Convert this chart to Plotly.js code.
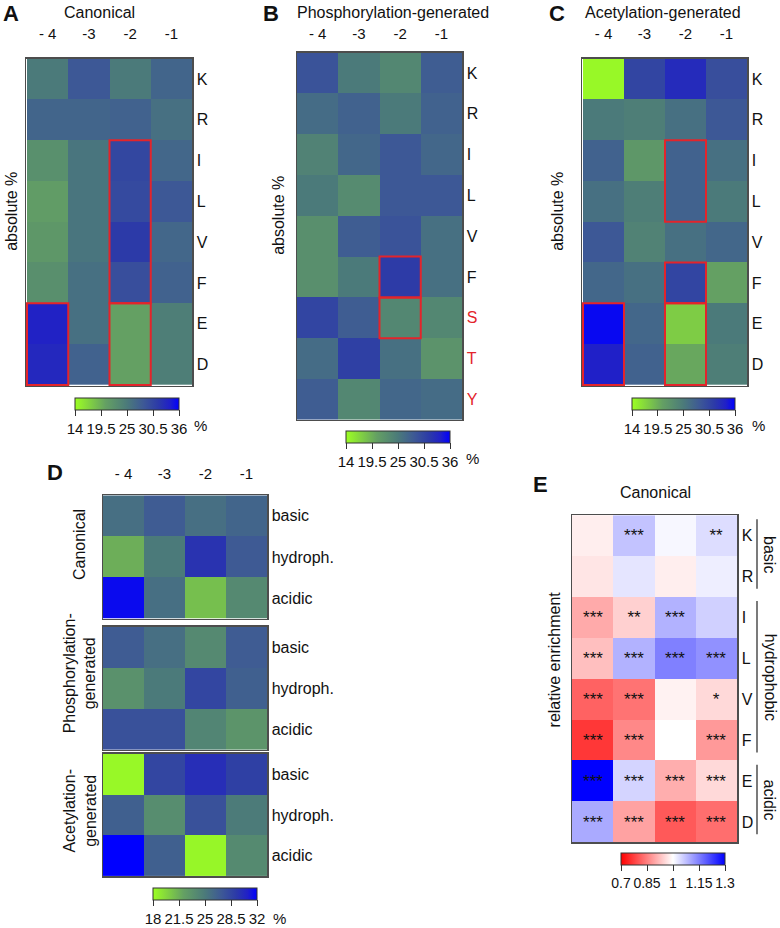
<!DOCTYPE html>
<html>
<head>
<meta charset="utf-8">
<script src="https://cdn.plot.ly/plotly-3.0.1.min.js"></script>
<style>
  body { margin: 0; background: #fff; }
  #chart { width: 780px; height: 928px; }
</style>
</head>
<body>
<div id="chart"></div>
<script>
// positions relative to the modified residue
var cols = ["- 4", "-3", "-2", "-1"];
var rowsMain = ["K", "R", "I", "L", "V", "F", "E", "D"];
var rowsPhos = ["K", "R", "I", "L", "V", "F", "S", "T", "Y"];
var groupRows = ["basic", "hydroph.", "acidic"];

// absolute %, one row per residue, columns -4..-1
var canonicalAbs = [
  [25.0, 28.5, 25.0, 27.2],
  [27.2, 27.2, 27.5, 26.0],
  [22.4, 25.5, 30.3, 27.0],
  [21.0, 25.5, 30.0, 28.5],
  [21.5, 25.5, 31.6, 27.0],
  [22.5, 26.0, 29.5, 27.5],
  [33.8, 26.0, 20.5, 24.5],
  [33.3, 27.5, 20.5, 24.5]
];
var phosAbs = [
  [29.0, 25.0, 23.5, 28.0],
  [26.5, 27.5, 25.0, 27.5],
  [24.0, 27.0, 28.5, 27.0],
  [25.0, 23.0, 28.5, 28.5],
  [22.5, 28.0, 29.0, 26.0],
  [22.5, 25.0, 31.5, 26.0],
  [30.5, 28.0, 23.5, 23.5],
  [26.5, 31.0, 26.0, 22.0],
  [28.0, 23.5, 27.0, 26.5]
];
var acetAbs = [
  [14.5, 30.5, 33.0, 29.5],
  [25.0, 24.5, 26.0, 28.5],
  [27.5, 21.5, 27.5, 26.0],
  [26.0, 24.5, 27.5, 25.0],
  [28.5, 24.0, 26.0, 27.0],
  [27.0, 26.0, 30.5, 20.5],
  [35.5, 27.0, 17.5, 25.0],
  [34.0, 27.5, 20.0, 24.5]
];

// grouped residues (basic / hydrophobic / acidic)
var canonicalGroup = [
  [25.7, 27.0, 25.7, 26.4],
  [21.5, 25.0, 29.6, 27.1],
  [31.6, 25.7, 20.8, 23.9]
];
var phosGroup = [
  [27.0, 25.7, 23.9, 27.0],
  [23.3, 25.0, 28.4, 26.7],
  [27.7, 27.7, 24.2, 23.0]
];
var acetGroup = [
  [18.3, 28.4, 29.9, 28.8],
  [26.7, 23.6, 27.7, 24.9],
  [32.0, 26.7, 18.4, 23.8]
];

// relative enrichment, canonical
var enrichment = [
  [0.98, 1.07, 1.01, 1.04],
  [0.97, 1.03, 0.98, 1.02],
  [0.90, 0.945, 1.09, 1.055],
  [0.925, 1.09, 1.15, 1.13],
  [0.815, 0.835, 0.985, 0.955],
  [0.765, 0.86, 1.0, 0.88],
  [1.30, 1.05, 0.905, 0.955],
  [1.10, 0.89, 0.805, 0.83]
];
var stars = [
  ["", "***", "", "**"],
  ["", "", "", ""],
  ["***", "**", "***", ""],
  ["***", "***", "***", "***"],
  ["***", "***", "", "*"],
  ["***", "***", "", "***"],
  ["***", "***", "***", "***"],
  ["***", "***", "***", "***"]
];
var eGroups = [["basic", "K", "R"], ["hydrophobic", "I", "F"], ["acidic", "E", "D"]];

// highlighted blocks: [column, first row, last row]
var boxesA = [["-2", "I", "F"], ["- 4", "E", "D"], ["-2", "E", "D"]];
var boxesB = [["-2", "F", "F"], ["-2", "S", "S"]];
var boxesC = [["-2", "I", "L"], ["-2", "F", "F"], ["- 4", "E", "D"], ["-2", "E", "D"]];

var ticksAbs = [14, 19.5, 25, 30.5, 36];
var ticksGroup = [18, 21.5, 25, 28.5, 32];
var ticksRel = [0.7, 0.85, 1, 1.15, 1.3];

var W = 780, H = 928;
var FONT = "Liberation Sans, Arial, sans-serif";
var seqScale = [
  [0, "#9cff22"], [0.295, "#64a063"], [0.5, "#4b7a7a"], [0.66, "#3d5896"],
  [0.8, "#2c3aa8"], [0.91, "#2020c8"], [1, "#0000ff"]
];
var divScale = [[0, "#ff0000"], [0.5, "#ffffff"], [1, "#0000ff"]];

function px(x) { return x / W; }
function py(y) { return 1 - y / H; }

function xAxis(x0, x1, yName, tlen, show) {
  return {
    domain: [px(x0), px(x1)], anchor: yName, side: "top", type: "category",
    showgrid: false, zeroline: false, showline: true, mirror: true,
    linecolor: "#4d4d4d", linewidth: 1.5, fixedrange: true,
    ticks: show ? "outside" : "", ticklen: tlen, tickcolor: "rgba(0,0,0,0)",
    showticklabels: show, tickfont: {size: 15, color: "#111"}
  };
}
function yAxis(y0, y1, xName, text) {
  var ax = {
    domain: [py(y1), py(y0)], anchor: xName, side: "right", type: "category",
    autorange: "reversed", showgrid: false, zeroline: false, showline: true,
    mirror: true, linecolor: "#4d4d4d", linewidth: 1.5, fixedrange: true,
    ticks: "", tickfont: {size: 16, color: "#111"}
  };
  if (text) { ax.tickmode = "array"; ax.tickvals = text[0]; ax.ticktext = text[1]; }
  return ax;
}
function cbar(x, y, w, h, vals, fs) {
  return {
    orientation: "h", x: px(x), xanchor: "left", y: py(y), yanchor: "top",
    len: w / W, lenmode: "fraction", thickness: h, thicknessmode: "pixels",
    xpad: 0, ypad: 0, outlinewidth: 1, outlinecolor: "#333",
    ticks: "outside", ticklen: 6, tickwidth: 1, tickcolor: "#333",
    tickmode: "array", tickvals: vals, ticktext: vals.map(String),
    tickangle: 0, tickfont: {size: fs || 15, color: "#111"}
  };
}
function heat(z, rows, xa, ya, lo, hi, scale, bar) {
  return {
    type: "heatmap", x: cols, y: rows, z: z, xaxis: xa, yaxis: ya,
    zmin: lo, zmax: hi, colorscale: scale, showscale: !!bar,
    colorbar: bar || {}, hoverinfo: "x+y+z"
  };
}

var data = [
  heat(canonicalAbs, rowsMain, "x", "y", 14, 36, seqScale, cbar(75, 400, 104, 12, ticksAbs)),
  heat(phosAbs, rowsPhos, "x2", "y2", 14, 36, seqScale, cbar(346, 433, 104, 12, ticksAbs)),
  heat(acetAbs, rowsMain, "x3", "y3", 14, 36, seqScale, cbar(632, 400, 103, 12, ticksAbs)),
  heat(canonicalGroup, groupRows, "x4", "y4", 18, 32, seqScale, cbar(153, 893, 104, 12, ticksGroup)),
  heat(phosGroup, groupRows, "x5", "y5", 18, 32, seqScale, null),
  heat(acetGroup, groupRows, "x6", "y6", 18, 32, seqScale, null)
];
var eTrace = heat(enrichment, rowsMain, "x7", "y7", 0.7, 1.3, divScale, cbar(621, 858, 104, 12, ticksRel, 14));
eTrace.text = stars;
eTrace.texttemplate = "%{text}";
eTrace.textfont = {size: 17, color: "#111"};
data.push(eTrace);

var redRows = rowsPhos.map(function (r) {
  return "STY".indexOf(r) >= 0 ? '<span style="color:#e3242b">' + r + "</span>" : r;
});

var layout = {
  width: W, height: H,
  margin: {l: 0, r: 0, t: 0, b: 0},
  paper_bgcolor: "#fff", plot_bgcolor: "#fff",
  font: {family: FONT, color: "#111"},
  showlegend: false,
  xaxis: xAxis(26, 192, "y", 12, true),
  yaxis: yAxis(59, 388, "x"),
  xaxis2: xAxis(297, 462, "y2", 6, true),
  yaxis2: yAxis(53, 422, "x2", [rowsPhos, redRows]),
  xaxis3: xAxis(582, 747, "y3", 12, true),
  yaxis3: yAxis(59, 388, "x3"),
  xaxis4: xAxis(103, 267, "y4", 9, true),
  yaxis4: yAxis(498, 622, "x4"),
  xaxis5: xAxis(103, 267, "y5", 0, false),
  yaxis5: yAxis(630, 754, "x5"),
  xaxis6: xAxis(103, 267, "y6", 0, false),
  yaxis6: yAxis(758, 881, "x6"),
  xaxis7: xAxis(572, 737, "y7", 0, false),
  yaxis7: yAxis(518, 847, "x7"),
  shapes: [],
  annotations: []
};

function addBoxes(list, rows, xa, ya) {
  list.forEach(function (b) {
    var c = cols.indexOf(b[0]);
    layout.shapes.push({
      type: "rect", xref: xa, yref: ya, layer: "above",
      x0: c - 0.5, x1: c + 0.5,
      y0: rows.indexOf(b[1]) - 0.5, y1: rows.indexOf(b[2]) + 0.5,
      line: {color: "#e3242b", width: 2}
    });
  });
}
addBoxes(boxesA, rowsMain, "x", "y");
addBoxes(boxesB, rowsPhos, "x2", "y2");
addBoxes(boxesC, rowsMain, "x3", "y3");

// brackets for residue groups in E
eGroups.forEach(function (g) {
  var a = rowsMain.indexOf(g[1]), b = rowsMain.indexOf(g[2]);
  layout.shapes.push({
    type: "line", xref: "paper", yref: "y7",
    x0: px(757), x1: px(757), y0: a - 0.4, y1: b + 0.3,
    line: {color: "#222", width: 1.2}
  });
  layout.annotations.push({
    xref: "paper", yref: "y7", x: px(770), y: (a + b) / 2 - 0.05,
    text: g[0], textangle: 90, showarrow: false,
    xanchor: "center", yanchor: "middle", font: {size: 16}
  });
});

function label(x, y, text, size, opts) {
  var a = {
    xref: "paper", yref: "paper", x: px(x), y: py(y), text: text,
    showarrow: false, xanchor: "center", yanchor: "middle",
    font: {size: size, color: "#111"}
  };
  for (var k in opts || {}) a[k] = opts[k];
  layout.annotations.push(a);
}
// panel letters
label(11, 14, "<b>A</b>", 22);
label(271, 14, "<b>B</b>", 22);
label(557, 14, "<b>C</b>", 22);
label(55, 475, "<b>D</b>", 22);
label(540, 487, "<b>E</b>", 22);
// panel titles
label(100, 13, "Canonical", 16);
label(393, 13, "Phosphorylation-generated", 16);
label(663, 13, "Acetylation-generated", 16);
label(655, 495, "Canonical", 16);
// axis captions
label(12, 213, "absolute %", 16, {textangle: -90});
label(279, 217, "absolute %", 16, {textangle: -90});
label(558, 213, "absolute %", 16, {textangle: -90});
label(554, 663, "relative enrichment", 16, {textangle: -90});
label(79, 548, "Canonical", 16, {textangle: -90});
label(80, 677, "Phosphorylation-<br>generated", 16, {textangle: -90});
label(80, 815, "Acetylation-<br>generated", 16, {textangle: -90});
// units next to colour bars
label(201, 428, "%", 15);
label(473, 461, "%", 15);
label(758, 428, "%", 15);
label(279, 923, "%", 15);

Plotly.newPlot("chart", data, layout, {displayModeBar: false, staticPlot: true});
</script>
</body>
</html>
